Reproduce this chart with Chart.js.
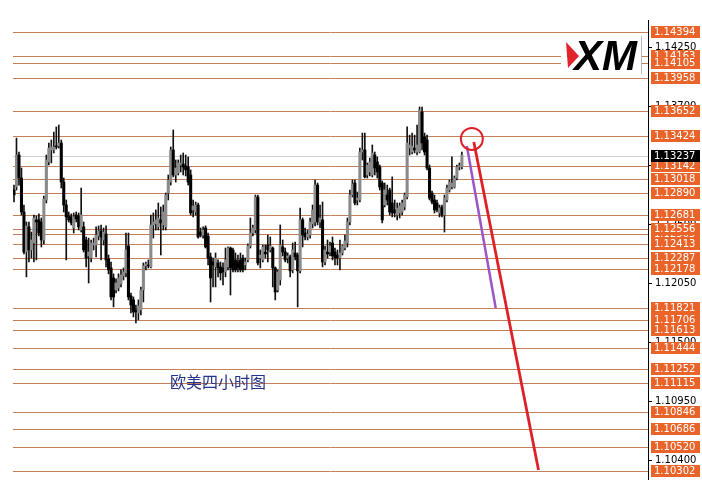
<!DOCTYPE html>
<html>
<head>
<meta charset="utf-8">
<script src="https://cdn.jsdelivr.net/npm/chart.js@4.4.0/dist/chart.umd.min.js"></script>
<style>
html, body { margin: 0; padding: 0; background: #fff; }
</style>
</head>
<body>
<canvas id="myChart" width="702" height="497"></canvas>
<script>
// EURUSD H4 candles
let opens = [1.12917,1.12945,1.13243,1.13029,1.12712,1.12339,1.12573,1.12358,1.12423,1.12638,
  1.12638,1.12619,1.12451,1.12824,1.13178,1.13290,1.13290,1.13327,1.13327,1.13355,
  1.12991,1.12777,1.12675,1.12666,1.12563,1.12684,1.12675,1.12544,1.12573,1.12451,
  1.12302,1.12283,1.12404,1.12404,1.12488,1.12535,1.12451,1.12507,1.12274,1.12190,
  1.12097,1.11985,1.12003,1.12041,1.12116,1.12144,1.12395,1.11929,1.11892,1.11799,
  1.11771,1.11799,1.11985,1.12209,1.12218,1.12200,1.12591,1.12601,1.12573,1.12638,
  1.12591,1.12573,1.12889,1.12991,1.13290,1.13057,1.13076,1.13150,1.13160,1.13141,
  1.13132,1.13057,1.12731,1.12712,1.12777,1.12525,1.12497,1.12563,1.12488,1.12293,
  1.12246,1.12200,1.12237,1.12200,1.12190,1.12153,1.12200,1.12376,1.12358,1.12265,
  1.12246,1.12265,1.12283,1.12218,1.12265,1.12395,1.12516,1.12544,1.12852,1.12283,
  1.12265,1.12339,1.12404,1.12358,1.12376,1.12190,1.11985,1.12078,1.12386,1.12339,
  1.12283,1.12293,1.12172,1.12330,1.12311,1.12163,1.12638,1.12516,1.12479,1.12497,
  1.12601,1.12619,1.12963,1.12619,1.12638,1.12246,1.12339,1.12339,1.12423,1.12339,
  1.12311,1.12283,1.12330,1.12376,1.12423,1.12619,1.12870,1.12982,1.12824,1.12824,
  1.13271,1.13290,1.13057,1.13085,1.13057,1.13243,1.13178,1.13132,1.12982,1.12777,
  1.12870,1.12917,1.12796,1.12731,1.12684,1.12703,1.12712,1.12759,1.12852,1.13308,
  1.13271,1.13308,1.13271,1.13271,1.13644,1.13411,1.13383,1.13122,1.12889,1.12824,
  1.12796,1.12703,1.12759,1.12684,1.12824,1.12917,1.12945,1.12945,1.13029,1.13132,
  1.13132];
let highs = [1.12963,1.13401,1.13271,1.13122,1.12777,1.12619,1.12619,1.12525,1.12684,1.12675,
  1.12694,1.12656,1.12861,1.13243,1.13355,1.13383,1.13457,1.13505,1.13523,1.13383,
  1.13029,1.12824,1.12712,1.12694,1.12703,1.12712,1.12703,1.12935,1.12619,1.12479,
  1.12469,1.12451,1.12469,1.12573,1.12582,1.12591,1.12563,1.12582,1.12311,1.12246,
  1.12135,1.12088,1.12135,1.12172,1.12190,1.12516,1.12516,1.11957,1.11920,1.11845,
  1.11892,1.12013,1.12237,1.12246,1.12265,1.12684,1.12703,1.12731,1.12796,1.12759,
  1.12777,1.12889,1.13057,1.13318,1.13476,1.13197,1.13197,1.13243,1.13262,1.13243,
  1.13225,1.13104,1.12824,1.12805,1.12796,1.12563,1.12573,1.12582,1.12516,1.12330,
  1.12283,1.12330,1.12265,1.12246,1.12237,1.12376,1.12386,1.12386,1.12376,1.12330,
  1.12311,1.12330,1.12311,1.12283,1.12414,1.12656,1.12591,1.12870,1.12870,1.12358,
  1.12404,1.12404,1.12497,1.12479,1.12386,1.12200,1.12172,1.12591,1.12451,1.12376,
  1.12330,1.12311,1.12423,1.12432,1.12330,1.12749,1.12656,1.12563,1.12544,1.12656,
  1.12777,1.13010,1.12982,1.12777,1.12805,1.12395,1.12451,1.12432,1.12479,1.12376,
  1.12358,1.12451,1.12404,1.12497,1.12656,1.12917,1.13010,1.13010,1.12898,1.13308,
  1.13448,1.13448,1.13169,1.13215,1.13337,1.13271,1.13225,1.13150,1.13001,1.12982,
  1.12963,1.12935,1.13039,1.12824,1.12796,1.12796,1.12824,1.12889,1.13505,1.13429,
  1.13448,1.13429,1.13523,1.13691,1.13691,1.13448,1.13429,1.13150,1.12908,1.12870,
  1.12824,1.12777,1.12777,1.12870,1.12963,1.13010,1.13225,1.13048,1.13150,1.13169,
  1.13271];
let lows = [1.12805,1.12917,1.12963,1.12684,1.12321,1.12107,1.12246,1.12283,1.12246,1.12265,
  1.12488,1.12386,1.12414,1.12796,1.13150,1.13169,1.13262,1.13299,1.13308,1.12935,
  1.12712,1.12265,1.12619,1.12591,1.12516,1.12619,1.12544,1.12525,1.12339,1.12200,
  1.12050,1.12246,1.12358,1.12293,1.12451,1.12265,1.12404,1.12200,1.12135,1.11892,
  1.11827,1.11957,1.11976,1.12013,1.12078,1.12107,1.11892,1.11771,1.11734,1.11678,
  1.11706,1.11752,1.11873,1.12172,1.12190,1.12190,1.12469,1.12544,1.12544,1.12311,
  1.12544,1.12544,1.12824,1.12963,1.13039,1.12991,1.13057,1.13085,1.13057,1.13048,
  1.12963,1.12684,1.12666,1.12684,1.12469,1.12479,1.12469,1.12376,1.12218,1.11873,
  1.12013,1.12013,1.12107,1.12078,1.12031,1.12107,1.12172,1.11938,1.12153,1.12153,
  1.12153,1.12153,1.12153,1.12172,1.12246,1.12376,1.12488,1.12516,1.12218,1.12190,
  1.12246,1.12283,1.12246,1.12339,1.12013,1.11892,1.11966,1.12031,1.12302,1.12246,
  1.12237,1.12107,1.12144,1.12265,1.11827,1.12144,1.12386,1.12451,1.12451,1.12469,
  1.12563,1.12582,1.12591,1.12563,1.12200,1.12218,1.12283,1.12302,1.12265,1.12218,
  1.12218,1.12172,1.12311,1.12358,1.12386,1.12591,1.12852,1.12777,1.12777,1.12805,
  1.13197,1.13029,1.13029,1.13048,1.13039,1.13057,1.13029,1.12917,1.12610,1.12759,
  1.12777,1.12684,1.12666,1.12666,1.12638,1.12656,1.12684,1.12731,1.12833,1.13243,
  1.13253,1.13262,1.13243,1.13262,1.13290,1.13243,1.13104,1.12824,1.12787,1.12703,
  1.12712,1.12666,1.12666,1.12525,1.12805,1.12898,1.12926,1.12935,1.13010,1.13104,
  1.13113];
let closes = [1.12870,1.13243,1.13029,1.12712,1.12339,1.12582,1.12358,1.12451,1.12656,1.12619,
  1.12516,1.12451,1.12833,1.13197,1.13308,1.13318,1.13318,1.13318,1.13355,1.12991,
  1.12777,1.12666,1.12638,1.12610,1.12666,1.12647,1.12573,1.12684,1.12358,1.12283,
  1.12339,1.12423,1.12423,1.12497,1.12535,1.12479,1.12525,1.12265,1.12172,1.11920,
  1.11920,1.12050,1.12097,1.12125,1.12153,1.12358,1.11920,1.11845,1.11780,1.11780,
  1.11836,1.11985,1.12209,1.12228,1.12209,1.12591,1.12619,1.12638,1.12656,1.12610,
  1.12712,1.12870,1.13010,1.13290,1.13057,1.13122,1.13169,1.13169,1.13132,1.13104,
  1.12991,1.12703,1.12768,1.12777,1.12479,1.12497,1.12544,1.12386,1.12283,1.12097,
  1.12218,1.12283,1.12190,1.12144,1.12153,1.12265,1.12376,1.12190,1.12172,1.12172,
  1.12190,1.12172,1.12172,1.12246,1.12395,1.12516,1.12563,1.12852,1.12237,1.12311,
  1.12386,1.12321,1.12358,1.12395,1.12190,1.11966,1.12153,1.12404,1.12339,1.12265,
  1.12302,1.12163,1.12358,1.12293,1.12163,1.12638,1.12497,1.12479,1.12507,1.12619,
  1.12731,1.12963,1.12619,1.12656,1.12246,1.12358,1.12321,1.12395,1.12302,1.12283,
  1.12283,1.12330,1.12395,1.12442,1.12619,1.12870,1.12973,1.12796,1.12842,1.13271,
  1.13290,1.13039,1.13150,1.13178,1.13262,1.13122,1.13085,1.12945,1.12638,1.12917,
  1.12824,1.12712,1.12703,1.12703,1.12749,1.12768,1.12796,1.12870,1.13355,1.13337,
  1.13327,1.13290,1.13337,1.13663,1.13355,1.13271,1.13122,1.12842,1.12805,1.12731,
  1.12731,1.12749,1.12684,1.12842,1.12935,1.12991,1.12982,1.13029,1.13132,1.13141,
  1.13243];

// horizontal support / resistance levels with their labels
let levels = [1.14394,1.14163,1.14105,1.13958,1.13652,1.13424,1.13142,1.13018,1.12890,1.12681,
  1.12556,1.12505,1.12413,1.12287,1.12178,1.11821,1.11706,1.11613,1.11444,1.11252,
  1.11115,1.10846,1.10686,1.10520,1.10302];
let hiddenLevels = [1.12505];
let axisTicks = [1.14250,1.13700,1.13150,1.12600,1.12050,1.11500,1.10950,1.10400];
let lastPrice = 1.13237;

// hand drawn projection: [bar index, price]
let purpleLine = [[182, 1.13327], [193.6, 1.11817]];
let redLine = [[184.8, 1.13365], [210.8, 1.10307]];
let redCircle = [184, 1.13393];

let caption = '欧美四小时图';

let wickData = opens.map((o, i) => ({x: i, y: [lows[i], highs[i]]}));
let bodyData = opens.map((o, i) => ({x: i, y: [o, closes[i]]}));
let bodyColors = opens.map((o, i) => closes[i] >= o ? '#8a8a8a' : '#000000');

let fmt = v => v.toFixed(5);

const levelsPlugin = {
    id: 'levels',
    beforeDatasetsDraw(chart) {
        const {ctx, chartArea: a, scales: {y}} = chart;
        ctx.save();
        ctx.lineWidth = 1;
        ctx.strokeStyle = '#c28159';
        levels.forEach(v => {
            let py = Math.round(y.getPixelForValue(v)) + 0.5;
            ctx.beginPath(); ctx.moveTo(a.left, py); ctx.lineTo(a.right, py); ctx.stroke();
        });
        ctx.strokeStyle = '#cfcfcf';
        let bp = Math.round(y.getPixelForValue(lastPrice)) + 0.5;
        ctx.beginPath(); ctx.moveTo(a.left, bp); ctx.lineTo(a.right, bp); ctx.stroke();
        ctx.restore();
    },
    afterDraw(chart) {
        const {ctx, chartArea: a, scales: {y}} = chart;
        ctx.save();
        // price axis
        ctx.strokeStyle = '#000';
        ctx.lineWidth = 1;
        ctx.beginPath(); ctx.moveTo(a.right + 0.5, a.top); ctx.lineTo(a.right + 0.5, a.bottom); ctx.stroke();
        ctx.font = '10px "DejaVu Sans"';
        ctx.textBaseline = 'middle';
        ctx.textAlign = 'left';
        axisTicks.forEach(v => {
            let py = Math.round(y.getPixelForValue(v)) + 0.5;
            ctx.beginPath(); ctx.moveTo(a.right, py); ctx.lineTo(a.right + 4, py); ctx.stroke();
            ctx.fillStyle = '#000';
            ctx.fillText(fmt(v), a.right + 7, py);
        });
        let box = (v, bg) => {
            let py = Math.round(y.getPixelForValue(v));
            ctx.fillStyle = bg;
            ctx.fillRect(a.right + 3, py - 6, 49, 12);
            ctx.fillStyle = '#fff';
            ctx.fillText(fmt(v), a.right + 6, py + 0.5);
        };
        hiddenLevels.forEach(v => box(v, '#ea6328'));
        levels.filter(v => !hiddenLevels.includes(v)).forEach(v => box(v, '#ea6328'));
        box(lastPrice, '#000');

        // XM logo
        ctx.fillStyle = '#fff';
        ctx.fillRect(561, 36, 80, 38);
        ctx.strokeStyle = '#b8b8b8';
        ctx.beginPath(); ctx.moveTo(641.5, 36); ctx.lineTo(641.5, 74); ctx.stroke();
        ctx.fillStyle = '#e0242a';
        ctx.beginPath(); ctx.moveTo(566, 42); ctx.lineTo(579, 56); ctx.lineTo(568, 68); ctx.closePath(); ctx.fill();
        ctx.fillStyle = '#000';
        ctx.font = 'italic bold 42px "Liberation Sans"';
        ctx.textBaseline = 'alphabetic';
        ctx.fillText('XM', 574, 70);

        // caption
        ctx.fillStyle = '#26338a';
        ctx.font = '16px "Noto Sans CJK SC"';
        ctx.textBaseline = 'middle';
        ctx.fillText(caption, 170, 382);
        ctx.restore();
    }
};

new Chart('myChart', {
    type: 'bar',
    data: {
        datasets: [{
            label: 'wick',
            data: wickData,
            backgroundColor: '#111',
            barThickness: 1,
            grouped: false,
            order: 3
        }, {
            label: 'body',
            data: bodyData,
            backgroundColor: bodyColors,
            barThickness: 2.4,
            minBarLength: 1,
            grouped: false,
            order: 2
        }, {
            type: 'line',
            label: 'purple',
            data: purpleLine.map(p => ({x: p[0], y: p[1]})),
            borderColor: '#9b55c8',
            borderWidth: 2.5,
            pointRadius: 0,
            order: 1
        }, {
            type: 'line',
            label: 'red',
            data: redLine.map(p => ({x: p[0], y: p[1]})),
            borderColor: '#de2128',
            borderWidth: 2.8,
            pointRadius: 0,
            order: 0
        }, {
            type: 'line',
            label: 'circle',
            data: [{x: redCircle[0], y: redCircle[1]}],
            showLine: false,
            pointRadius: 11,
            pointBorderWidth: 2,
            pointBorderColor: '#de2128',
            pointBackgroundColor: 'rgba(0,0,0,0)',
            order: 0
        }]
    },
    options: {
        responsive: false,
        animation: false,
        layout: {padding: {left: 10, right: 54, top: 20, bottom: 17}},
        plugins: {legend: {display: false}, tooltip: {enabled: false}},
        scales: {
            x: {type: 'linear', min: -0.4, max: 254.8, offset: false, display: false},
            y: {min: 1.102135, max: 1.145017, display: false}
        }
    },
    plugins: [levelsPlugin]
});
</script>
</body>
</html>
